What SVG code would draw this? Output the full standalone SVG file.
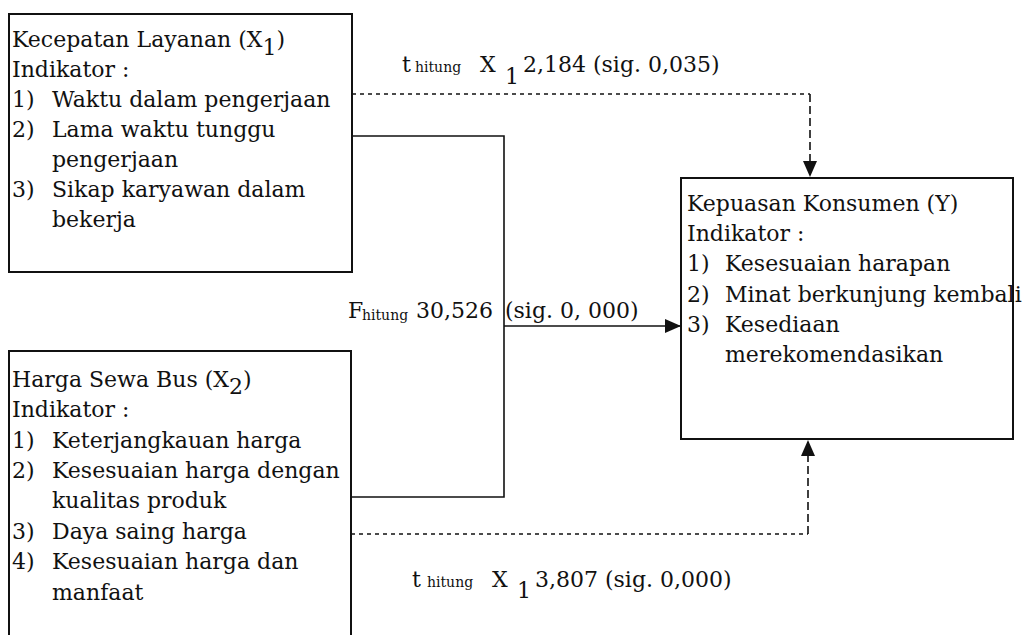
<svg xmlns="http://www.w3.org/2000/svg" width="1026" height="635" viewBox="0 0 1026 635">
<style>
text{font-family:"DejaVu Serif","Liberation Serif",serif;font-size:22px;fill:#111}
.sm{font-size:14px}
.box{fill:#fff;stroke:#111;stroke-width:2}
.c{fill:none;stroke:#111;stroke-width:1.6}
.dot{stroke-dasharray:4 4}
.dash{stroke-dasharray:8 4}
</style>
<defs>
<marker id="ah" markerUnits="userSpaceOnUse" markerWidth="16" markerHeight="14" refX="16" refY="7" orient="auto">
<path d="M0,0 L16,7 L0,14 Z" fill="#111"/>
</marker>
</defs>
<rect width="1026" height="635" fill="#fff"/>
<g id="connectors">
<polyline class="c dot" points="352,94 810,94"/>
<line class="c dash" x1="810" y1="94" x2="810" y2="177" marker-end="url(#ah)"/>
<polyline class="c" points="352,136 504,136 504,497 351,497"/>
<line class="c" x1="504" y1="326" x2="681" y2="326" stroke-width="2.4" marker-end="url(#ah)"/>
<polyline class="c dot" points="351,534 808,534"/>
<line class="c dash" x1="808" y1="534" x2="808" y2="440" marker-end="url(#ah)"/>
</g>
<g id="node-x1">
<rect class="box" x="9" y="14" width="343" height="258"/>
<text x="12" y="47">Kecepatan Layanan (X<tspan dy="8">1</tspan><tspan dy="-8">)</tspan></text>
<text x="12" y="77">Indikator :</text>
<text x="12" y="107">1)</text><text x="52" y="107">Waktu dalam pengerjaan</text>
<text x="12" y="137">2)</text><text x="52" y="137">Lama waktu tunggu</text>
<text x="52" y="167">pengerjaan</text>
<text x="12" y="197">3)</text><text x="52" y="197">Sikap karyawan dalam</text>
<text x="52" y="227">bekerja</text>
</g>
<g id="node-x2">
<rect class="box" x="9" y="351" width="342" height="300"/>
<text x="12" y="387">Harga Sewa Bus (X<tspan dy="7">2</tspan><tspan dy="-7">)</tspan></text>
<text x="12" y="417">Indikator :</text>
<text x="12" y="448">1)</text><text x="52" y="448">Keterjangkauan harga</text>
<text x="12" y="478">2)</text><text x="52" y="478">Kesesuaian harga dengan</text>
<text x="52" y="508">kualitas produk</text>
<text x="12" y="539">3)</text><text x="52" y="539">Daya saing harga</text>
<text x="12" y="569">4)</text><text x="52" y="569">Kesesuaian harga dan</text>
<text x="52" y="600">manfaat</text>
</g>
<g id="node-y">
<rect class="box" x="681" y="178" width="332" height="261"/>
<text x="687" y="211">Kepuasan Konsumen (Y)</text>
<text x="687" y="241">Indikator  :</text>
<text x="687" y="271">1)</text><text x="725" y="271">Kesesuaian harapan</text>
<text x="687" y="302">2)</text><text x="725" y="302">Minat berkunjung kembali</text>
<text x="687" y="332">3)</text><text x="725" y="332">Kesediaan</text>
<text x="725" y="362">merekomendasikan</text>
</g>
<g id="labels">
<text x="402" y="72">t</text><text class="sm" x="415" y="72">hitung</text>
<text x="480" y="72">X</text><text x="505" y="84">1</text>
<text x="523" y="72">2,184 (sig. 0,035)</text>
<text x="348" y="318">F</text><text class="sm" x="362" y="320">hitung</text>
<text x="416" y="318">30,526</text>
<text x="505" y="318">(sig. 0, 000)</text>
<text x="412" y="587">t</text><text class="sm" x="427" y="587">hitung</text>
<text x="492" y="587">X</text><text x="517" y="598">1</text>
<text x="535" y="587">3,807 (sig. 0,000)</text>
</g>
</svg>
